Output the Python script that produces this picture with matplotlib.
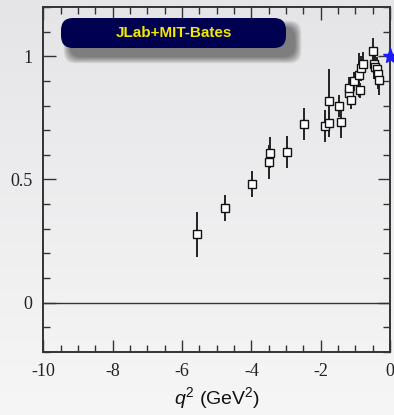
from matplotlib import pyplot as plt
from matplotlib.patches import FancyBboxPatch
import numpy as np

plt.rcParams['axes.unicode_minus'] = False
plt.rcParams['mathtext.fontset'] = 'custom'
plt.rcParams['mathtext.it'] = 'Liberation Sans:italic'
plt.rcParams['mathtext.rm'] = 'Liberation Sans'

# data
q2 = [-5.56, -4.75, -3.97, -3.50, -3.46, -2.97, -2.47, -1.87, -1.76, -1.75,
      -1.47, -1.42, -1.19, -1.17, -1.13, -1.03, -0.89, -0.87, -0.84, -0.77,
      -0.50, -0.47, -0.43, -0.38, -0.34, -0.32]
ff = [0.277, 0.384, 0.482, 0.570, 0.608, 0.612, 0.725, 0.718, 0.728, 0.818,
      0.798, 0.732, 0.850, 0.870, 0.823, 0.898, 0.923, 0.862, 0.951, 0.967,
      1.021, 0.967, 0.956, 0.949, 0.927, 0.902]
ff_err = [0.09, 0.053, 0.052, 0.07, 0.063, 0.065, 0.066, 0.066, 0.055, 0.13,
          0.046, 0.063, 0.04, 0.045, 0.035, 0.04, 0.09, 0.03, 0.05, 0.05,
          0.053, 0.06, 0.05, 0.05, 0.06, 0.06]
norm_x = [0.0]
norm_y = [1.0]
label = 'JLab+MIT-Bates'

fig = plt.figure(figsize=(3.94, 4.15), dpi=100)

# background gradient
bg = fig.add_axes((0, 0, 1, 1), zorder=-10)
grad = np.linspace(0, 1, 256).reshape(-1, 1)
top = np.array([229, 229, 232]) / 255
bot = np.array([246, 246, 246]) / 255
img = top + (bot - top) * grad[:, :, None]
bg.imshow(img, aspect='auto', extent=(0, 1, 0, 1))
bg.axis('off')

ax = fig.add_axes((0.110, 0.152, 0.880, 0.831))
ax.patch.set_alpha(0)

ax.axhline(0, color='#333333', lw=1.0, zorder=1)
ax.errorbar(q2, ff, yerr=ff_err, fmt='s', ms=5.5, mfc='white', mec='#111111',
            mew=1.0, ecolor='#222222', elinewidth=1.4, capsize=0, zorder=3)
ax.plot(norm_x, norm_y, '*', color='#1a1aff', ms=11, clip_on=False, zorder=5)

ax.set_xlim(-10, 0)
ax.set_ylim(-0.2, 1.2)
ax.set_xticks(np.arange(-10, 0.1, 2))
ax.set_xticks(np.arange(-10, 0.1, 0.5), minor=True)
ax.set_yticks([0, 0.5, 1])
ax.set_yticklabels(['0', '0.5', '1'])
ax.set_yticks(np.arange(-0.2, 1.21, 0.1), minor=True)
ax.tick_params(which='both', direction='in', top=True, right=True,
               color='#333333', labelsize=13, pad=8)
ax.tick_params(which='major', length=9, width=1.0)
ax.tick_params(which='minor', length=5, width=1.0)
for lab in ax.get_xticklabels() + ax.get_yticklabels():
    lab.set_family('Liberation Serif')
    lab.set_color('#222222')
for sp in ax.spines.values():
    sp.set_color('#333333')
    sp.set_linewidth(1.4)

ax.set_xlabel('$q^2$ (GeV$^2$)', family='Liberation Sans', fontsize=14,
              labelpad=4, color='#111111')

# title box with soft shadow
bx, by, bw, bh = 61 / 394, 1 - 48 / 415, 225 / 394, 30 / 415
n = 14
for i in range(n):
    grow = (n - 1 - i) * 0.5
    sh = FancyBboxPatch((bx + 9 / 394 - grow / 394, by - 9 / 415 - grow / 415),
                        bw + 2 * grow / 394, bh + 2 * grow / 415,
                        boxstyle='round,pad=0,rounding_size=0.03',
                        transform=fig.transFigure, fc='black', ec='none',
                        alpha=0.04, zorder=8)
    fig.patches.append(sh)
box = FancyBboxPatch((bx, by), bw, bh, boxstyle='round,pad=0,rounding_size=0.03',
                     transform=fig.transFigure, fc='#000050', ec='none', zorder=9)
fig.patches.append(box)
fig.text(bx + bw / 2, by + bh / 2, label, ha='center', va='center',
         family='Liberation Sans', fontweight='bold', fontsize=11,
         color='#f5e800', zorder=10)

fig.savefig('out.png', dpi=100)
